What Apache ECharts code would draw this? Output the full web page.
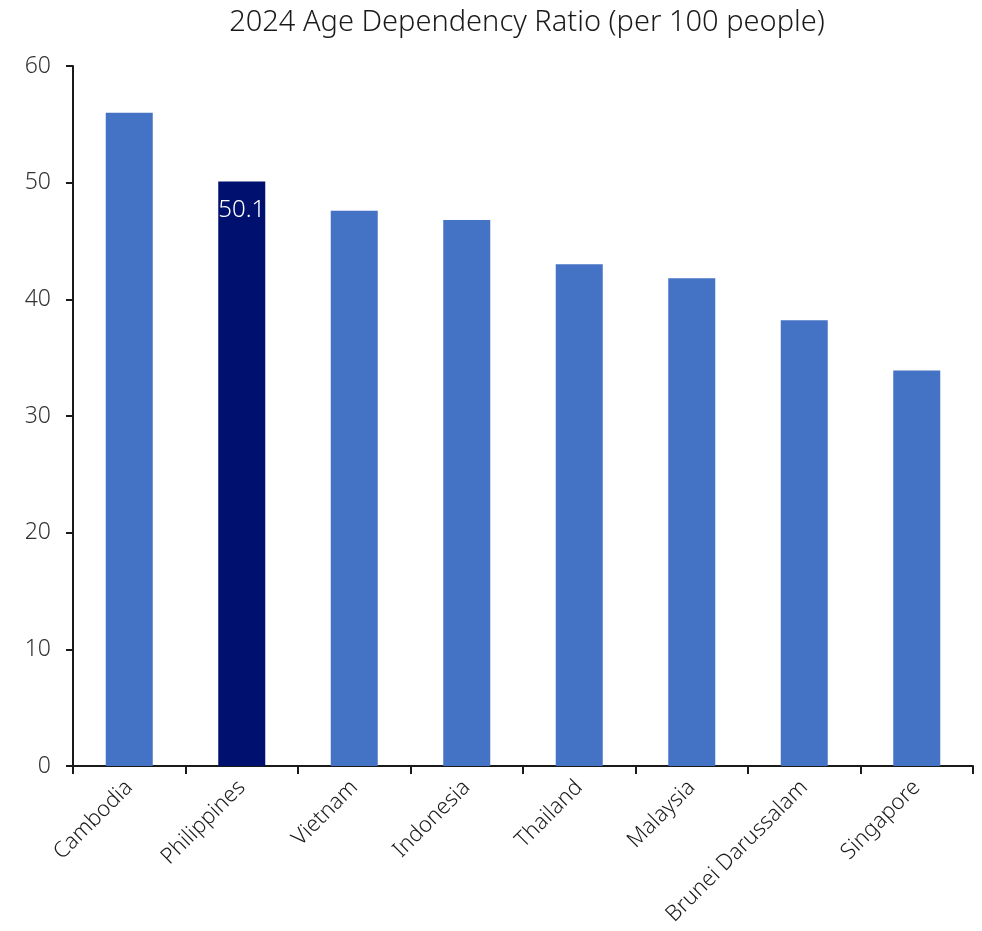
<!DOCTYPE html>
<html>
<head>
<meta charset="utf-8">
<script src="https://cdn.jsdelivr.net/npm/echarts@6/dist/echarts.min.js"></script>
<style>html,body{margin:0;padding:0;background:#fff}#chart{width:982px;height:931px}</style>
</head>
<body>
<div id="chart"></div>
<script>
const titleText = "2024 Age Dependency Ratio (per 100 people)";
const categories = ["Cambodia","Philippines","Vietnam","Indonesia","Thailand","Malaysia","Brunei Darussalam","Singapore"];
const values = [56.0, 50.1, 47.6, 46.8, 43.0, 41.8, 38.2, 33.9];
const highlight = "Philippines";
const yTicks = [0, 10, 20, 30, 40, 50, 60];

const FONT = "'Noto Sans', 'Open Sans', sans-serif";
const chart = echarts.init(document.getElementById('chart'), null, {renderer: 'canvas'});
chart.setOption({
  animation: false,
  backgroundColor: '#fff',
  title: {
    text: titleText,
    left: 522, top: 3, textAlign: 'center',
    textStyle: {fontFamily: FONT, fontWeight: 300, fontSize: 29, color: '#1a1a1a'}
  },
  grid: {left: 73, right: 9, top: 66, bottom: 165, containLabel: false},
  xAxis: {
    type: 'category',
    data: categories,
    boundaryGap: true,
    axisLine: {lineStyle: {color: '#1a1a1a', width: 2}},
    axisTick: {show: true, alignWithLabel: false, length: 8, lineStyle: {color: '#1a1a1a', width: 2}},
    axisLabel: {rotate: 45, interval: 0, margin: 18, fontFamily: FONT, fontWeight: 300, fontSize: 22, color: '#1a1a1a'}
  },
  yAxis: {
    type: 'value',
    min: yTicks[0], max: yTicks[yTicks.length - 1], interval: 10,
    splitLine: {show: false},
    axisLine: {show: true, lineStyle: {color: '#1a1a1a', width: 2}},
    axisTick: {show: true, length: 7, lineStyle: {color: '#1a1a1a', width: 2}},
    axisLabel: {margin: 22, fontFamily: FONT, fontWeight: 300, fontSize: 23, color: '#333'}
  },
  series: [{
    type: 'bar',
    barWidth: 47,
    data: categories.map((c, i) => ({
      value: values[i],
      itemStyle: {color: c === highlight ? '#00106e' : '#4472c4'},
      label: c === highlight ? {
        show: true, position: 'insideTop', distance: 17,
        color: '#fff', fontFamily: FONT, fontWeight: 300, fontSize: 24,
        formatter: p => p.value.toFixed(1)
      } : {show: false}
    }))
  }]
});
</script>
</body>
</html>
